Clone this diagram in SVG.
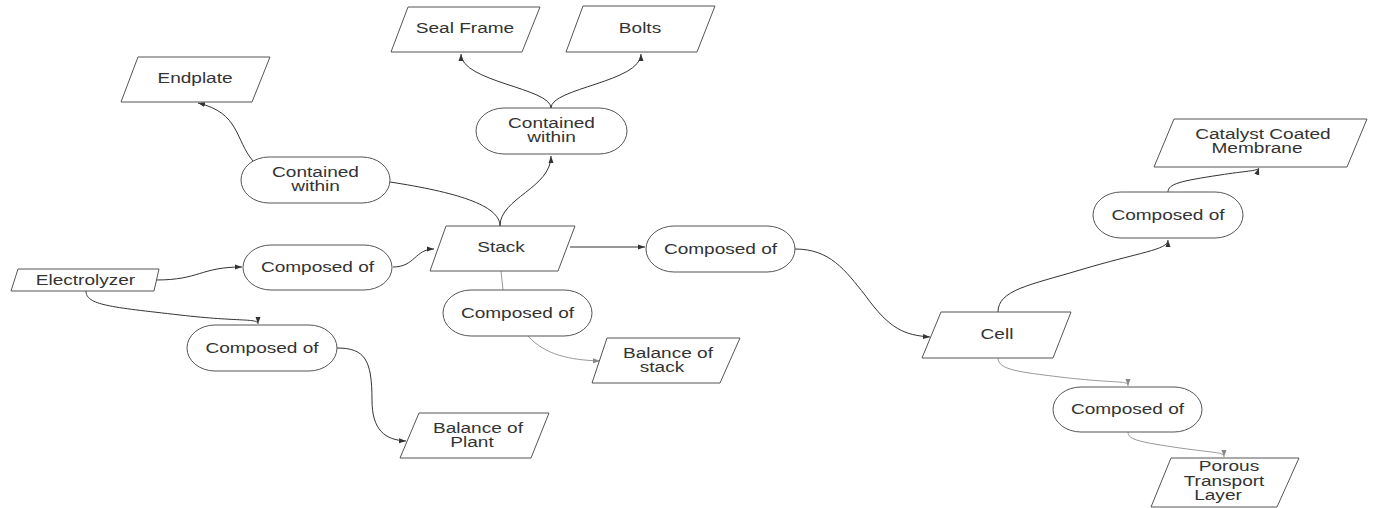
<svg xmlns="http://www.w3.org/2000/svg" width="1373" height="508" viewBox="0 0 1373 508">
<defs>
<marker id="ah" markerWidth="8" markerHeight="6" refX="7" refY="3" orient="auto" markerUnits="userSpaceOnUse"><path d="M0,0.5 L7,3 L0,5.5 Z" fill="#333"/></marker>
<marker id="ahl" markerWidth="8" markerHeight="6" refX="7" refY="3" orient="auto" markerUnits="userSpaceOnUse"><path d="M0,0.5 L7,3 L0,5.5 Z" fill="#888"/></marker>
</defs>
<style>
.s{fill:#fff;stroke:#555;stroke-width:1}
.t{font-family:"Liberation Sans",Arial,sans-serif;font-size:14px;fill:#333;text-anchor:middle}
.c{fill:none;stroke:#333;stroke-width:1}
.cl{fill:none;stroke:#999;stroke-width:1}
</style>
<rect width="1373" height="508" fill="#fff"/>
<g id="connectors">
<path class="c" d="M500,226 C500,198 551,188 551,156" marker-end="url(#ah)"/>
<path class="c" d="M390,182 C455,192 500,205 500,226"/>
<path class="c" d="M551,108 C551,88 461,82 461,54" marker-end="url(#ah)"/>
<path class="c" d="M551,108 C551,88 641,82 641,54" marker-end="url(#ah)"/>
<path class="c" d="M253,161 C235,140 240,113 198,103" marker-end="url(#ah)"/>
<path class="c" d="M156,280 C200,280 200,267 242,267" marker-end="url(#ah)"/>
<path class="c" d="M393,267 C415,267 415,249 434,249" marker-end="url(#ah)"/>
<path class="c" d="M570,247 L645,247" marker-end="url(#ah)"/>
<path class="cl" d="M501,271 L503,290"/>
<path class="cl" d="M528,336 C545,355 570,360 600,361" marker-end="url(#ahl)"/>
<path class="c" d="M86,291 C86,305 110,307 180,315 C240,322 258,318 258,324" marker-end="url(#ah)"/>
<path class="c" d="M337,348 C365,348 372,360 372,400 C372,430 385,440 406,441" marker-end="url(#ah)"/>
<path class="c" d="M795,249 C830,249 845,270 865,295 C890,330 905,335 930,337" marker-end="url(#ah)"/>
<path class="c" d="M998,312 C998,290 1030,285 1080,270 C1140,252 1168,250 1168,240" marker-end="url(#ah)"/>
<path class="c" d="M1168,192 C1168,184 1180,181 1220,175 C1245,171 1258,171 1259,168" marker-end="url(#ah)"/>
<path class="cl" d="M998,358 C998,370 1020,372 1060,377 C1120,384 1128,380 1128,386" marker-end="url(#ahl)"/>
<path class="cl" d="M1128,432 C1128,440 1140,442 1180,448 C1215,453 1224,452 1224,457" marker-end="url(#ahl)"/>
</g>
<g id="sealframe"><polygon class="s" points="408,7 540,7 522,52 391,52"/><text class="t" transform="translate(465,32.5) scale(1.36,1)">Seal Frame</text></g>
<g id="bolts"><polygon class="s" points="583,6 715,6 697,52 566,52"/><text class="t" transform="translate(640,32.5) scale(1.36,1)">Bolts</text></g>
<g id="endplate"><polygon class="s" points="138,57 270,57 252,102 121,102"/><text class="t" transform="translate(195,83) scale(1.36,1)">Endplate</text></g>
<g id="stack"><polygon class="s" points="446,226 575,226 558,271 430,271"/><text class="t" transform="translate(501,252.3) scale(1.36,1)">Stack</text></g>
<g id="electrolyzer"><polygon class="s" points="18,269 159,269 154,291 11,291"/><text class="t" transform="translate(85.5,284.5) scale(1.36,1)">Electrolyzer</text></g>
<g id="balstack"><polygon class="s" points="607,338 740,338 720,383 592,383"/><text class="t" transform="translate(668,357.5) scale(1.36,1)">Balance of</text><text class="t" transform="translate(662,372) scale(1.36,1)">stack</text></g>
<g id="balplant"><polygon class="s" points="419,413 549,413 531,458 400,458"/><text class="t" transform="translate(478,432.5) scale(1.36,1)">Balance of</text><text class="t" transform="translate(472,447) scale(1.36,1)">Plant</text></g>
<g id="cell"><polygon class="s" points="941,312 1071,312 1053,358 922,358"/><text class="t" transform="translate(997,339) scale(1.36,1)">Cell</text></g>
<g id="ccm"><polygon class="s" points="1174,119 1367,119 1347,167 1154,167"/><text class="t" transform="translate(1263,139) scale(1.36,1)">Catalyst Coated</text><text class="t" transform="translate(1257,153) scale(1.36,1)">Membrane</text></g>
<g id="ptl"><polygon class="s" points="1171,458 1299,458 1277,507 1151,507"/><text class="t" transform="translate(1229,471) scale(1.36,1)">Porous</text><text class="t" transform="translate(1224,485.7) scale(1.36,1)">Transport</text><text class="t" transform="translate(1218,500.4) scale(1.36,1)">Layer</text></g>
<g id="cw_top"><rect class="s" x="476" y="108" width="151" height="46" rx="28" ry="23"/><text class="t" transform="translate(551.5,128) scale(1.36,1)">Contained</text><text class="t" transform="translate(551.5,142) scale(1.36,1)">within</text></g>
<g id="cw_left"><rect class="s" x="241" y="157" width="149" height="46" rx="28" ry="23"/><text class="t" transform="translate(315.5,177) scale(1.36,1)">Contained</text><text class="t" transform="translate(315.5,191) scale(1.36,1)">within</text></g>
<g id="co_left"><rect class="s" x="243" y="245" width="149" height="45" rx="28" ry="22.5"/><text class="t" transform="translate(317.5,272) scale(1.36,1)">Composed of</text></g>
<g id="co_right"><rect class="s" x="646" y="226" width="149" height="46" rx="28" ry="23"/><text class="t" transform="translate(720.5,253.5) scale(1.36,1)">Composed of</text></g>
<g id="co_below"><rect class="s" x="443" y="290" width="149" height="46" rx="28" ry="23"/><text class="t" transform="translate(517.5,317.5) scale(1.36,1)">Composed of</text></g>
<g id="co_lower"><rect class="s" x="187" y="325" width="150" height="46" rx="28" ry="23"/><text class="t" transform="translate(262,352.5) scale(1.36,1)">Composed of</text></g>
<g id="co_up"><rect class="s" x="1093" y="192" width="150" height="46" rx="28" ry="23"/><text class="t" transform="translate(1168,219.5) scale(1.36,1)">Composed of</text></g>
<g id="co_low2"><rect class="s" x="1053" y="387" width="149" height="45" rx="28" ry="22.5"/><text class="t" transform="translate(1127.5,414) scale(1.36,1)">Composed of</text></g>
</svg>
